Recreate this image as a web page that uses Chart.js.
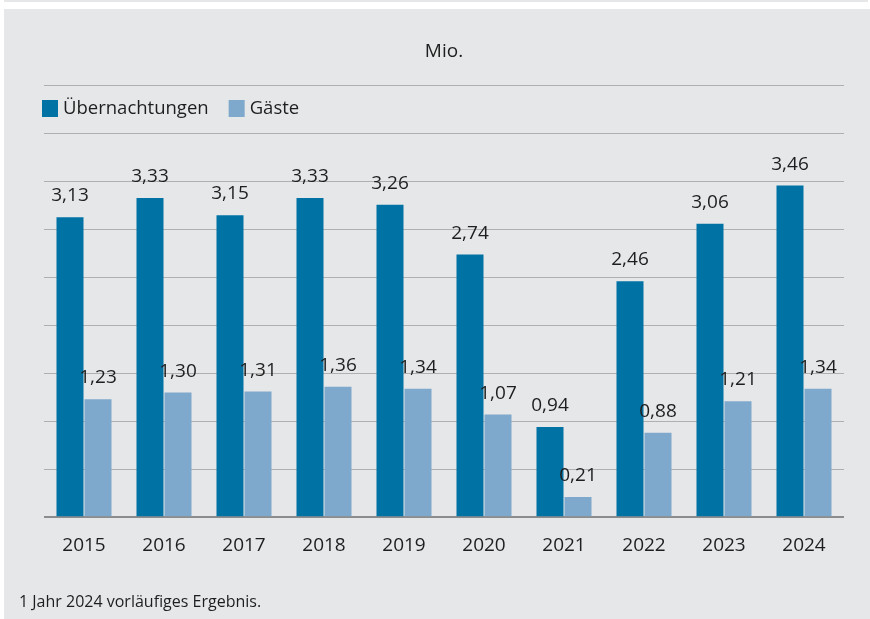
<!DOCTYPE html>
<html>
<head>
<meta charset="utf-8">
<script src="https://cdn.jsdelivr.net/npm/chart.js@4.4.1/dist/chart.umd.min.js"></script>
<style>
  html, body { margin: 0; padding: 0; background: #ffffff; }
  #wrap { position: absolute; left: 0; top: 0; width: 870px; height: 619px; }
</style>
</head>
<body>
<div id="wrap"><canvas id="c" width="870" height="619"></canvas></div>
<script>
const categories = ['2015','2016','2017','2018','2019','2020','2021','2022','2023','2024'];
const uebernachtungen = [3.13, 3.33, 3.15, 3.33, 3.26, 2.74, 0.94, 2.46, 3.06, 3.46];
const gaeste = [1.23, 1.30, 1.31, 1.36, 1.34, 1.07, 0.21, 0.88, 1.21, 1.34];
const seriesNames = ['Übernachtungen', 'Gäste'];
const unitTitle = 'Mio.';
const footnote = '1 Jahr 2024 vorläufiges Ergebnis.';

const FONT = '"Open Sans", "Noto Sans", sans-serif';
const TEXT = '#1e1e1e';
const DARK = '#0073a4';
const LIGHT = '#7fa9cc';

const bgPlugin = {
  id: 'bg',
  beforeDraw(chart) {
    const ctx = chart.ctx;
    ctx.save();
    ctx.fillStyle = '#ffffff';
    ctx.fillRect(0, 0, chart.width, chart.height);
    ctx.fillStyle = '#e6e7e9';
    ctx.fillRect(4, 0, 864, 2);
    ctx.fillRect(4, 9, 866, 610);
    ctx.restore();
  }
};

const legendPlugin = {
  id: 'customLegend',
  afterDraw(chart) {
    const ctx = chart.ctx;
    ctx.save();
    ctx.font = '18.5px ' + FONT;
    ctx.textBaseline = 'middle';
    let x = 42;
    const y = 109;
    chart.data.datasets.forEach(ds => {
      ctx.fillStyle = ds.backgroundColor;
      ctx.fillRect(x, 100, 16, 17);
      ctx.fillStyle = TEXT;
      ctx.fillText(ds.label, x + 21, y);
      x += 21 + ctx.measureText(ds.label).width + 20;
    });
    ctx.font = '16px ' + FONT;
    ctx.textBaseline = 'alphabetic';
    ctx.fillText(footnote, 19, 607);
    ctx.restore();
  }
};

const valuePlugin = {
  id: 'values',
  afterDatasetsDraw(chart) {
    const ctx = chart.ctx;
    ctx.save();
    ctx.font = '19px ' + FONT;
    ctx.fillStyle = TEXT;
    ctx.textAlign = 'center';
    ctx.textBaseline = 'alphabetic';
    chart.data.datasets.forEach((ds, di) => {
      const meta = chart.getDatasetMeta(di);
      meta.data.forEach((bar, i) => {
        const txt = ds.data[i].toFixed(2).replace('.', ',');
        ctx.fillText(txt, bar.x, bar.y - 16);
      });
    });
    ctx.restore();
  }
};

new Chart(document.getElementById('c'), {
  type: 'bar',
  data: {
    labels: categories,
    datasets: [
      { label: seriesNames[0], data: uebernachtungen, backgroundColor: DARK,
        categoryPercentage: 0.7, barPercentage: 0.965 },
      { label: seriesNames[1], data: gaeste, backgroundColor: LIGHT,
        categoryPercentage: 0.7, barPercentage: 0.965 }
    ]
  },
  options: {
    responsive: false,
    animation: false,
    devicePixelRatio: 1,
    layout: { padding: { left: 44, right: 26, top: 0, bottom: 45 } },
    plugins: {
      legend: { display: false },
      tooltip: { enabled: false },
      title: {
        display: true,
        text: unitTitle,
        color: TEXT,
        font: { family: FONT, size: 19, weight: 'normal' },
        padding: { top: 40, bottom: 23 }
      }
    },
    scales: {
      x: {
        grid: { display: false, drawTicks: false },
        border: { display: false },
        ticks: { color: TEXT, font: { family: FONT, size: 19 }, padding: 17 }
      },
      y: {
        min: 0, max: 4.5,
        grid: {
          drawTicks: false,
          color: ctx => ctx.tick.value === 0 ? '#8c8c8c' : '#b0b0b0',
          lineWidth: ctx => ctx.tick.value === 0 ? 2 : 1
        },
        border: { display: false },
        ticks: { display: false, stepSize: 0.5 }
      }
    }
  },
  plugins: [bgPlugin, legendPlugin, valuePlugin]
});
</script>
</body>
</html>
